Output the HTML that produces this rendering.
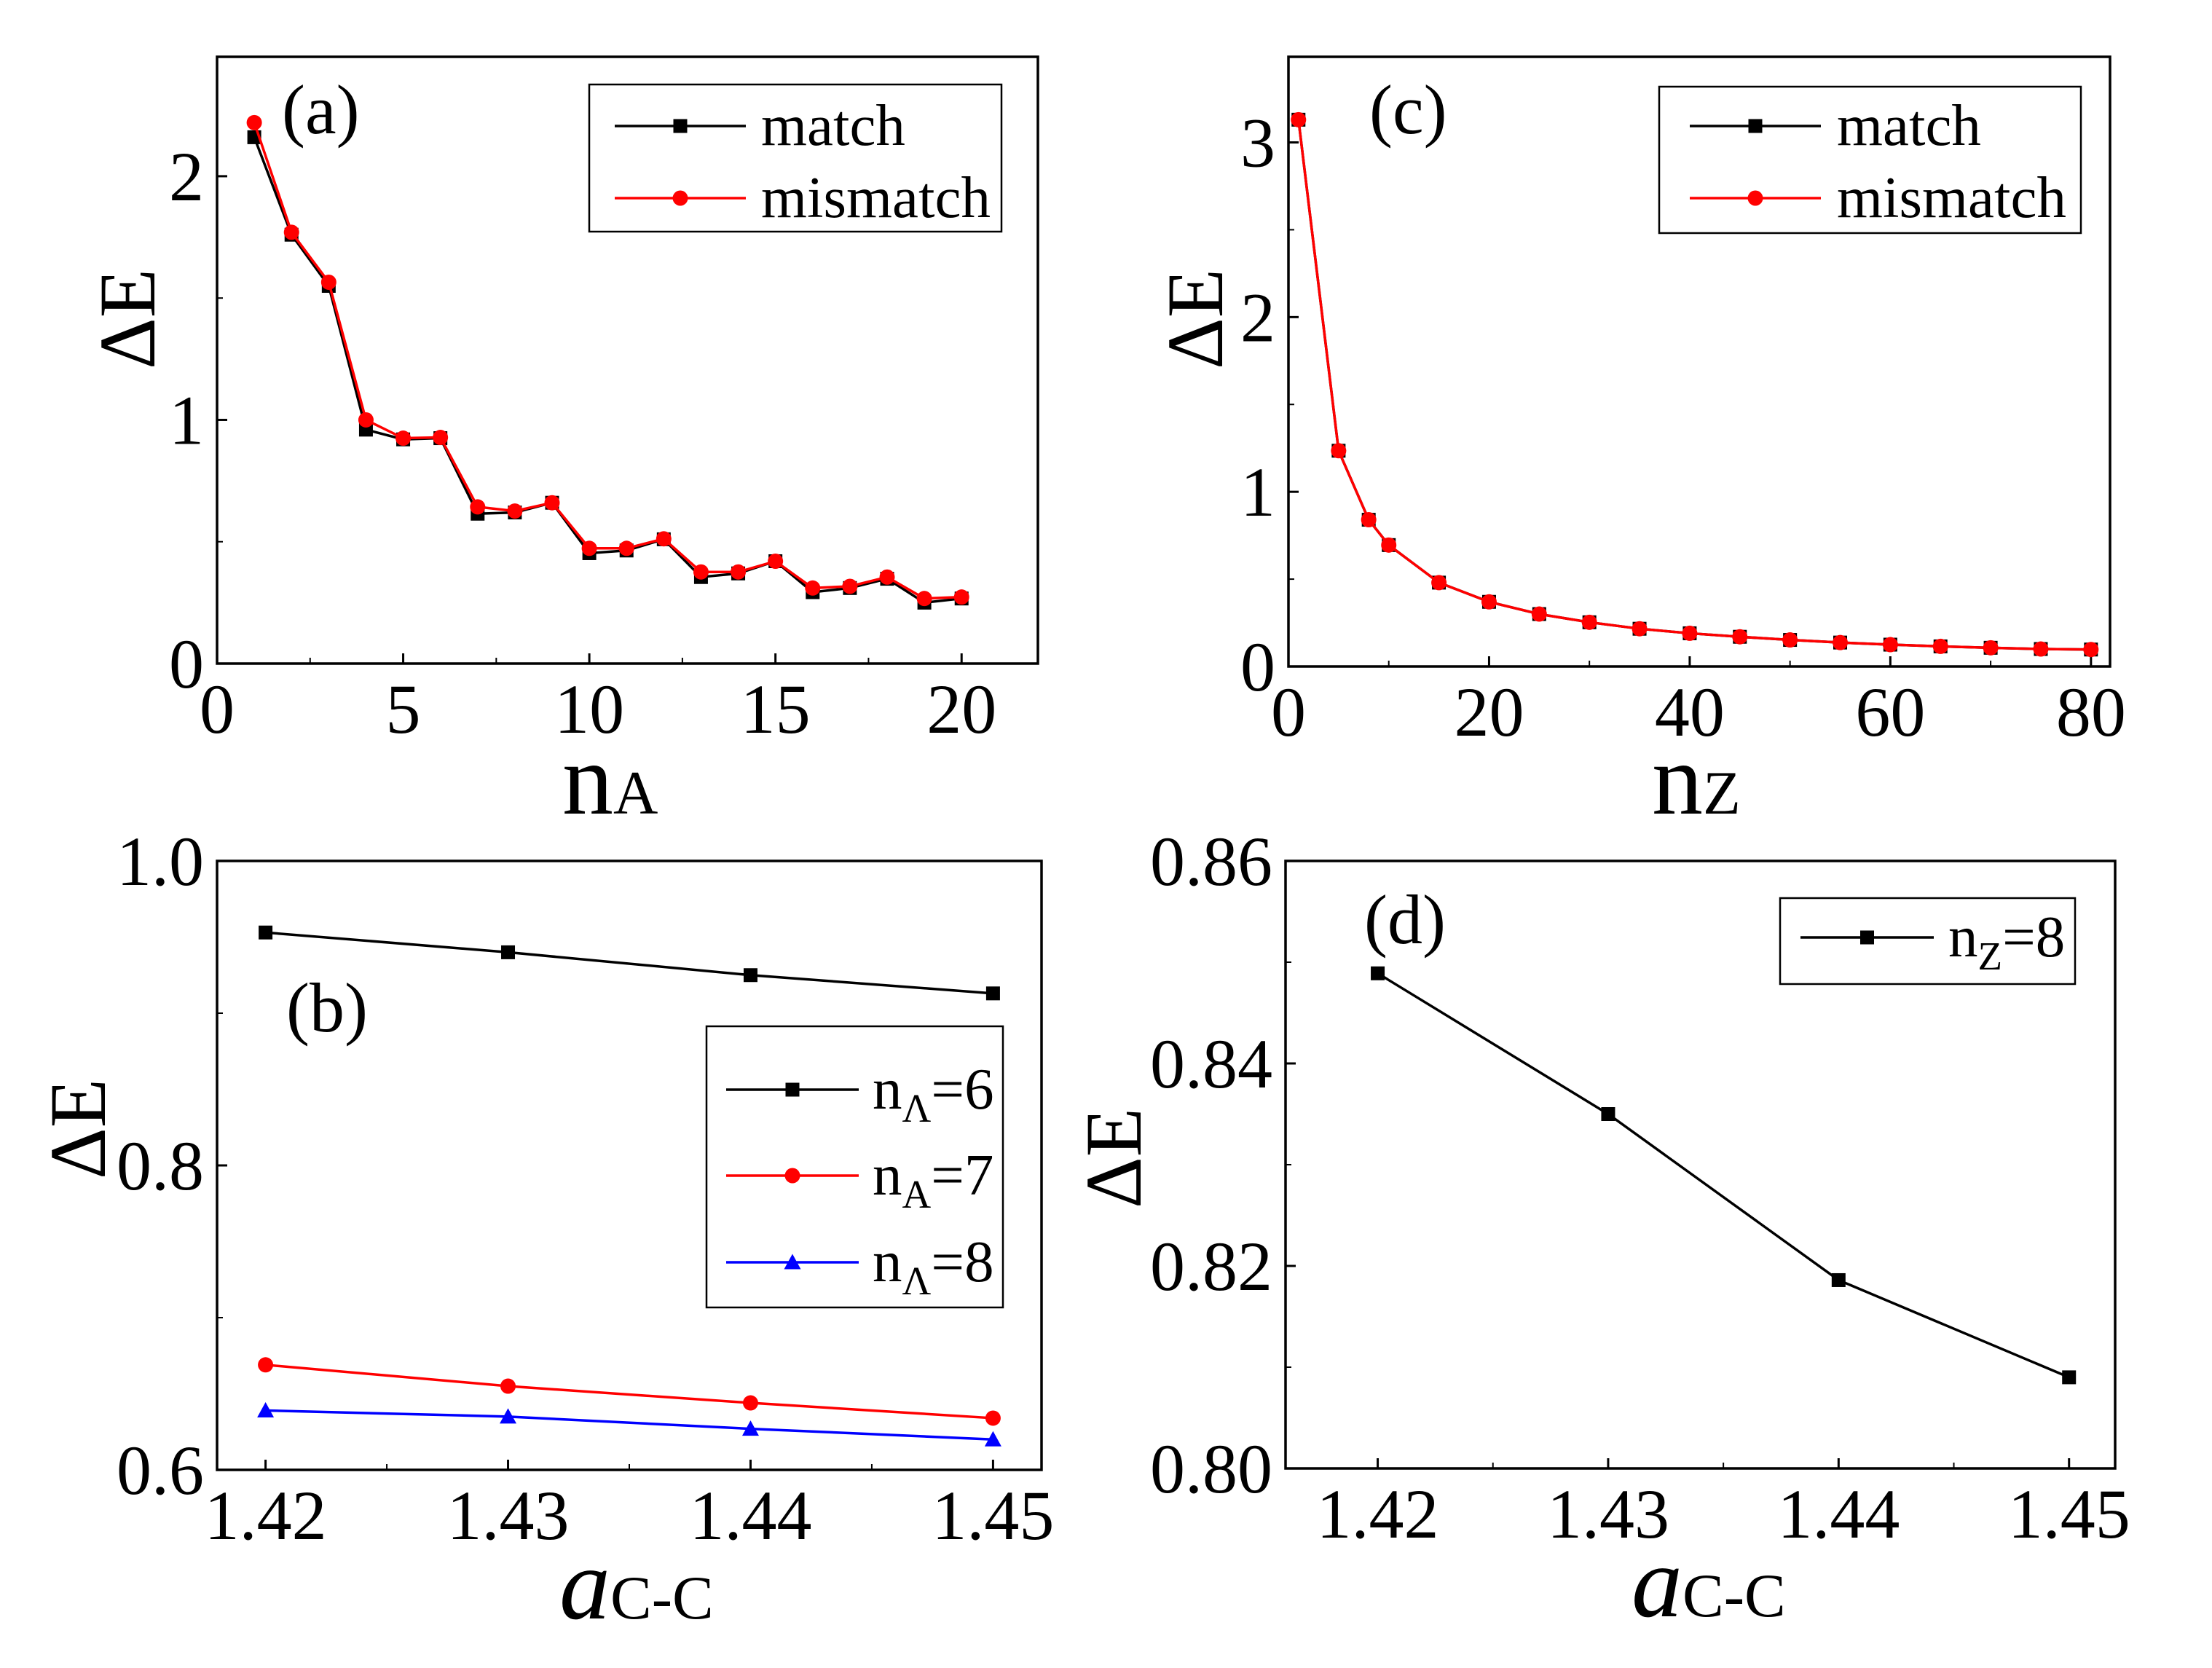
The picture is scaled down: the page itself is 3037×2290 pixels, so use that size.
<!DOCTYPE html>
<html><head><meta charset="utf-8"><style>
html,body{margin:0;padding:0;background:#fff}
svg{display:block}
svg text{font-family:"Liberation Serif","Times New Roman","DejaVu Serif",serif;fill:#000}
</style></head><body>
<svg id="fig" width="3037" height="2290" viewBox="0 0 3037 2290" font-family="Liberation Serif, Times New Roman, DejaVu Serif, serif"></svg>
<script>
// Panel (a)
const aX = [1,2,3,4,5,6,7,8,9,10,11,12,13,14,15,16,17,18,19,20];
const aMatch = [2.16,1.76,1.55,0.96,0.92,0.925,0.615,0.62,0.66,0.453,0.464,0.51,0.355,0.37,0.42,0.293,0.31,0.348,0.25,0.267];
const aMismatch = [2.22,1.77,1.565,1.0,0.925,0.928,0.643,0.626,0.66,0.473,0.473,0.512,0.376,0.376,0.42,0.31,0.317,0.355,0.267,0.273];
const aXTicks = ["0","5","10","15","20"];
const aYTicks = ["0","1","2"];
// Panel (c)
const cX = [1,5,8,10,15,20,25,30,35,40,45,50,55,60,65,70,75,80];
const cMatch = [3.13,1.235,0.84,0.695,0.48,0.37,0.30,0.253,0.216,0.19,0.17,0.152,0.137,0.125,0.115,0.107,0.10,0.097];
const cMismatch = [3.13,1.235,0.84,0.695,0.48,0.37,0.30,0.253,0.216,0.19,0.17,0.152,0.137,0.125,0.115,0.107,0.10,0.097];
const cXTicks = ["0","20","40","60","80"];
const cYTicks = ["0","1","2","3"];
// Panel (b)
const bX = [1.42,1.43,1.44,1.45];
const bN6 = [0.953,0.940,0.925,0.913];
const bN7 = [0.669,0.655,0.644,0.634];
const bN8 = [0.639,0.635,0.627,0.620];
const bXTicks = ["1.42","1.43","1.44","1.45"];
const bYTicks = ["0.6","0.8","1.0"];
// Panel (d)
const dX = [1.42,1.43,1.44,1.45];
const dN8 = [0.8489,0.8350,0.8186,0.8090];
const dXTicks = ["1.42","1.43","1.44","1.45"];
const dYTicks = ["0.80","0.82","0.84","0.86"];

const NS="http://www.w3.org/2000/svg";
const svg=document.getElementById('fig');
const FF='Liberation Serif, Times New Roman, DejaVu Serif, serif';
function mk(tag,attrs,parent){const e=document.createElementNS(NS,tag);for(const k in attrs)e.setAttribute(k,attrs[k]);if(tag==='text')e.setAttribute('font-family',FF);(parent||svg).appendChild(e);return e;}

function marker(g,shape,x,y,color,s){
  let m;
  if(shape==='sq') m=mk('rect',{x:x-s/2,y:y-s/2,width:s,height:s,fill:color},g);
  else if(shape==='ci') m=mk('circle',{cx:x,cy:y,r:s/2+1,fill:color},g);
  else m=mk('polygon',{points:`${x},${y-s/2-2} ${x-s/2-2},${y+s/2} ${x+s/2+2},${y+s/2}`,fill:color},g);
  
  
}

function panel(p){
  const g=mk('g',{});
  
  
  const sx=v=>p.L+(v-p.x0)/(p.x1-p.x0)*(p.R-p.L);
  const sy=v=>p.B-(v-p.y0)/(p.y1-p.y0)*(p.B-p.T);
  const fr=mk('rect',{x:p.L,y:p.T,width:p.R-p.L,height:p.B-p.T,fill:'none',stroke:'#000','stroke-width':3.5},g);
  
  p.xt.forEach((t,i)=>{const v=parseFloat(t);const x=sx(v);
    mk('line',{x1:x,y1:p.B,x2:x,y2:p.B-14,stroke:'#000','stroke-width':3},g);
    const tx=mk('text',{x:x,y:p.B+95,'font-size':96,'text-anchor':'middle'},g);tx.textContent=t;
    
    if(i<p.xt.length-1){const xm=sx(v+p.xm);mk('line',{x1:xm,y1:p.B,x2:xm,y2:p.B-8,stroke:'#000','stroke-width':2},g);}
  });
  p.yt.forEach((t,i)=>{const v=parseFloat(t);const y=sy(v);
    mk('line',{x1:p.L,y1:y,x2:p.L+14,y2:y,stroke:'#000','stroke-width':3},g);
    const tx=mk('text',{x:p.L-18,y:y+33,'font-size':96,'text-anchor':'end'},g);tx.textContent=t;
    
    const ym=sy(v+p.ym);if(ym>p.T+2){mk('line',{x1:p.L,y1:ym,x2:p.L+8,y2:ym,stroke:'#000','stroke-width':2},g);}
  });
  p.series.forEach(s=>{
    const pts=p.xs.map((x,i)=>sx(x)+','+sy(s.v[i])).join(' ');
    const l=mk('polyline',{points:pts,fill:'none',stroke:s.c,'stroke-width':3.5},g);
    
    p.xs.forEach((x,i)=>marker(g,s.m,sx(x),sy(s.v[i]),s.c,19));
  });
  const lg=mk('g',{},g);
  
  mk('rect',{x:p.lg.x,y:p.lg.y,width:p.lg.w,height:p.lg.h,fill:'#fff',stroke:'#000','stroke-width':2.5},lg);
  p.series.forEach((s,i)=>{const y=p.lg.rows[i];
    mk('line',{x1:p.lg.l1,y1:y,x2:p.lg.l2,y2:y,stroke:s.c,'stroke-width':3.5},lg);
    marker(lg,s.m,(p.lg.l1+p.lg.l2)/2,y,s.c,19);
    const t=mk('text',{x:p.lg.tx,y:y+26,'font-size':81},lg);t.innerHTML=s.label;
    
  });
  const pl=mk('text',{x:p.pl[0],y:p.pl[1]+30,'font-size':96},g);pl.textContent='('+p.id+')';
  
  const yl=mk('text',{x:0,y:0,'font-size':110,'text-anchor':'middle',transform:`translate(${p.yl[0]+38},${p.yl[1]}) rotate(-90)`},g);yl.textContent='ΔE';
  
  const xl=mk('text',{x:p.xl[0],y:p.xl[1]},g);xl.innerHTML=p.xlab;
  
}

panel({id:'a',L:298,R:1425,T:78,B:911,x0:0,x1:22.05,y0:0,y1:2.49,xm:2.5,ym:0.5,
  xs:aX,xt:aXTicks,yt:aYTicks,
  series:[{name:'match',v:aMatch,c:'#000',m:'sq',label:'match'},{name:'mismatch',v:aMismatch,c:'#f00',m:'ci',label:'mismatch'}],
  lg:{x:809,y:116,w:566,h:202,l1:844,l2:1024,tx:1045,rows:[173,272]},
  pl:[387,153],yl:[174,438],xl:[772,1117],
  xlab:'<tspan font-size="140">n</tspan><tspan font-size="85">A</tspan>'});
panel({id:'c',L:1769,R:2897,T:78,B:915,x0:0,x1:81.9,y0:0,y1:3.49,xm:10,ym:0.5,
  xs:cX,xt:cXTicks,yt:cYTicks,
  series:[{name:'match',v:cMatch,c:'#000',m:'sq',label:'match'},{name:'mismatch',v:cMismatch,c:'#f00',m:'ci',label:'mismatch'}],
  lg:{x:2278,y:119,w:579,h:201,l1:2320,l2:2500,tx:2522,rows:[173,272]},
  pl:[1880,153],yl:[1640,438],xl:[2268,1117],
  xlab:'<tspan font-size="140">n</tspan><tspan font-size="85">Z</tspan>'});
panel({id:'b',L:298,R:1430,T:1182,B:2018,x0:1.418,x1:1.452,y0:0.6,y1:1.0,xm:0.005,ym:0.1,
  xs:bX,xt:bXTicks,yt:bYTicks,
  series:[{name:'n6',v:bN6,c:'#000',m:'sq',label:'n<tspan font-size="55" dy="18">Λ</tspan><tspan dy="-18">=6</tspan>'},
          {name:'n7',v:bN7,c:'#f00',m:'ci',label:'n<tspan font-size="55" dy="18">A</tspan><tspan dy="-18">=7</tspan>'},
          {name:'n8',v:bN8,c:'#00f',m:'tr',label:'n<tspan font-size="55" dy="18">Λ</tspan><tspan dy="-18">=8</tspan>'}],
  lg:{x:970,y:1409,w:407,h:386,l1:997,l2:1179,tx:1198,rows:[1496,1614,1733]},
  pl:[393,1386],yl:[106,1550],xl:[768,2222],
  xlab:'<tspan font-size="140" font-style="italic">a</tspan><tspan font-size="85">C-C</tspan>'});
panel({id:'d',L:1765,R:2904,T:1182,B:2016,x0:1.416,x1:1.452,y0:0.80,y1:0.86,xm:0.005,ym:0.01,
  xs:dX,xt:dXTicks,yt:dYTicks,
  series:[{name:'nz8',v:dN8,c:'#000',m:'sq',label:'n<tspan font-size="55" dy="18">Z</tspan><tspan dy="-18">=8</tspan>'}],
  lg:{x:2444,y:1233,w:405,h:118,l1:2472,l2:2655,tx:2675,rows:[1287]},
  pl:[1873,1265],yl:[1528,1590],xl:[2240,2219],
  xlab:'<tspan font-size="140" font-style="italic">a</tspan><tspan font-size="85">C-C</tspan>'});
</script>
</body></html>
